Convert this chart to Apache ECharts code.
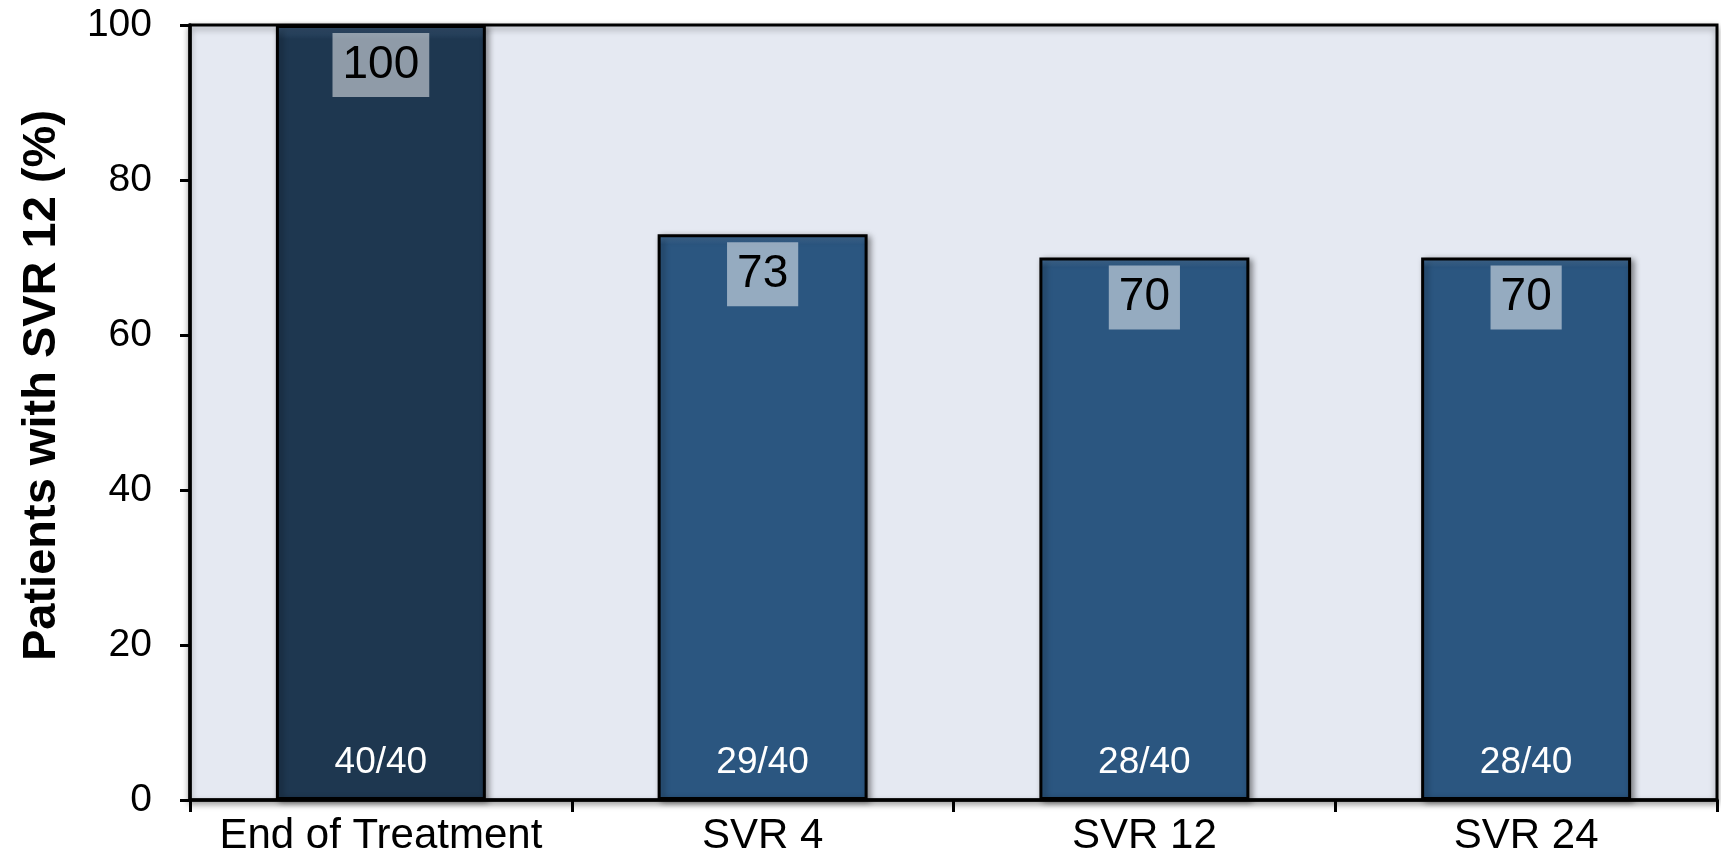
<!DOCTYPE html>
<html>
<head>
<meta charset="utf-8">
<script src="https://cdn.jsdelivr.net/npm/echarts@6/dist/echarts.min.js"></script>
<style>
html,body{margin:0;padding:0;background:#fff;}
#chart{width:1721px;height:859px;}
</style>
</head>
<body>
<div id="chart"></div>
<script>
const categories = ['End of Treatment', 'SVR 4', 'SVR 12', 'SVR 24'];
const values = [100, 73, 70, 70];
const ratios = ['40/40', '29/40', '28/40', '28/40'];
const yTicks = [0, 20, 40, 60, 80, 100];

const FONT = '"Liberation Sans", Arial, sans-serif';
const barColors = ['#1E3750', '#2B5680', '#2B5680', '#2B5680'];
const bevelColors = ['#3A5878', '#4E7AA6', '#4E7AA6', '#4E7AA6'];

function barFill(i) {
  return {
    type: 'linear', x: 0, y: 0, x2: 0, y2: 1,
    colorStops: [
      { offset: 0, color: bevelColors[i] },
      { offset: 0.018, color: barColors[i] },
      { offset: 1, color: barColors[i] }
    ]
  };
}

const chart = echarts.init(document.getElementById('chart'), null, { renderer: 'canvas' });
chart.setOption({
  animation: false,
  backgroundColor: '#ffffff',
  textStyle: { fontFamily: FONT },
  grid: {
    left: 190, right: 4, top: 25, bottom: 59,
    show: true,
    backgroundColor: '#E5E9F2',
    borderColor: '#000',
    borderWidth: 3,
    shadowColor: 'rgba(0,0,0,0.35)',
    shadowBlur: 6,
    shadowOffsetY: 3
  },
  xAxis: {
    type: 'category',
    data: categories,
    axisLine: { lineStyle: { color: '#000', width: 3.5 } },
    axisTick: { show: true, interval: 0, length: 12, lineStyle: { color: '#000', width: 3 } },
    axisLabel: { color: '#000', fontSize: 42, fontFamily: FONT, margin: 15, interval: 0 },
    splitLine: { show: false }
  },
  yAxis: {
    type: 'value',
    min: yTicks[0],
    max: yTicks[yTicks.length - 1],
    interval: yTicks[1] - yTicks[0],
    name: 'Patients with SVR 12 (%)',
    nameLocation: 'middle',
    nameGap: 124,
    nameRotate: 90,
    nameTextStyle: {
      color: '#000', fontSize: 47, fontWeight: 'bold', fontFamily: FONT,
      padding: [0, 0, 0, 54]
    },
    axisLine: { show: true, lineStyle: { color: '#000', width: 3.5 } },
    axisTick: { show: true, length: 10, lineStyle: { color: '#000', width: 3 } },
    axisLabel: { color: '#000', fontSize: 39, fontFamily: FONT, margin: 38 },
    splitLine: { show: false }
  },
  series: [
    {
      type: 'bar',
      barWidth: '55%',
      z: 2,
      data: values.map((v, i) => ({
        value: v,
        itemStyle: {
          color: barFill(i),
          borderColor: '#000',
          borderWidth: 3,
          shadowColor: 'rgba(0,0,0,0.4)',
          shadowBlur: 6,
          shadowOffsetX: 3,
          shadowOffsetY: 2
        }
      })),
      label: {
        show: true,
        position: 'insideTop',
        distance: 8,
        color: '#000',
        fontSize: 46,
        fontFamily: FONT,
        backgroundColor: 'rgba(255,255,255,0.5)',
        padding: [9, 10, 9, 10]
      },
      emphasis: { disabled: true }
    },
    {
      type: 'bar',
      barWidth: '55%',
      barGap: '-100%',
      z: 3,
      data: values,
      itemStyle: { color: 'rgba(0,0,0,0)', borderWidth: 0 },
      label: {
        show: true,
        position: 'insideBottom',
        distance: 19,
        color: '#fff',
        fontSize: 37,
        fontFamily: FONT,
        formatter: p => ratios[p.dataIndex]
      },
      emphasis: { disabled: true },
      silent: true
    }
  ]
});
</script>
</body>
</html>
